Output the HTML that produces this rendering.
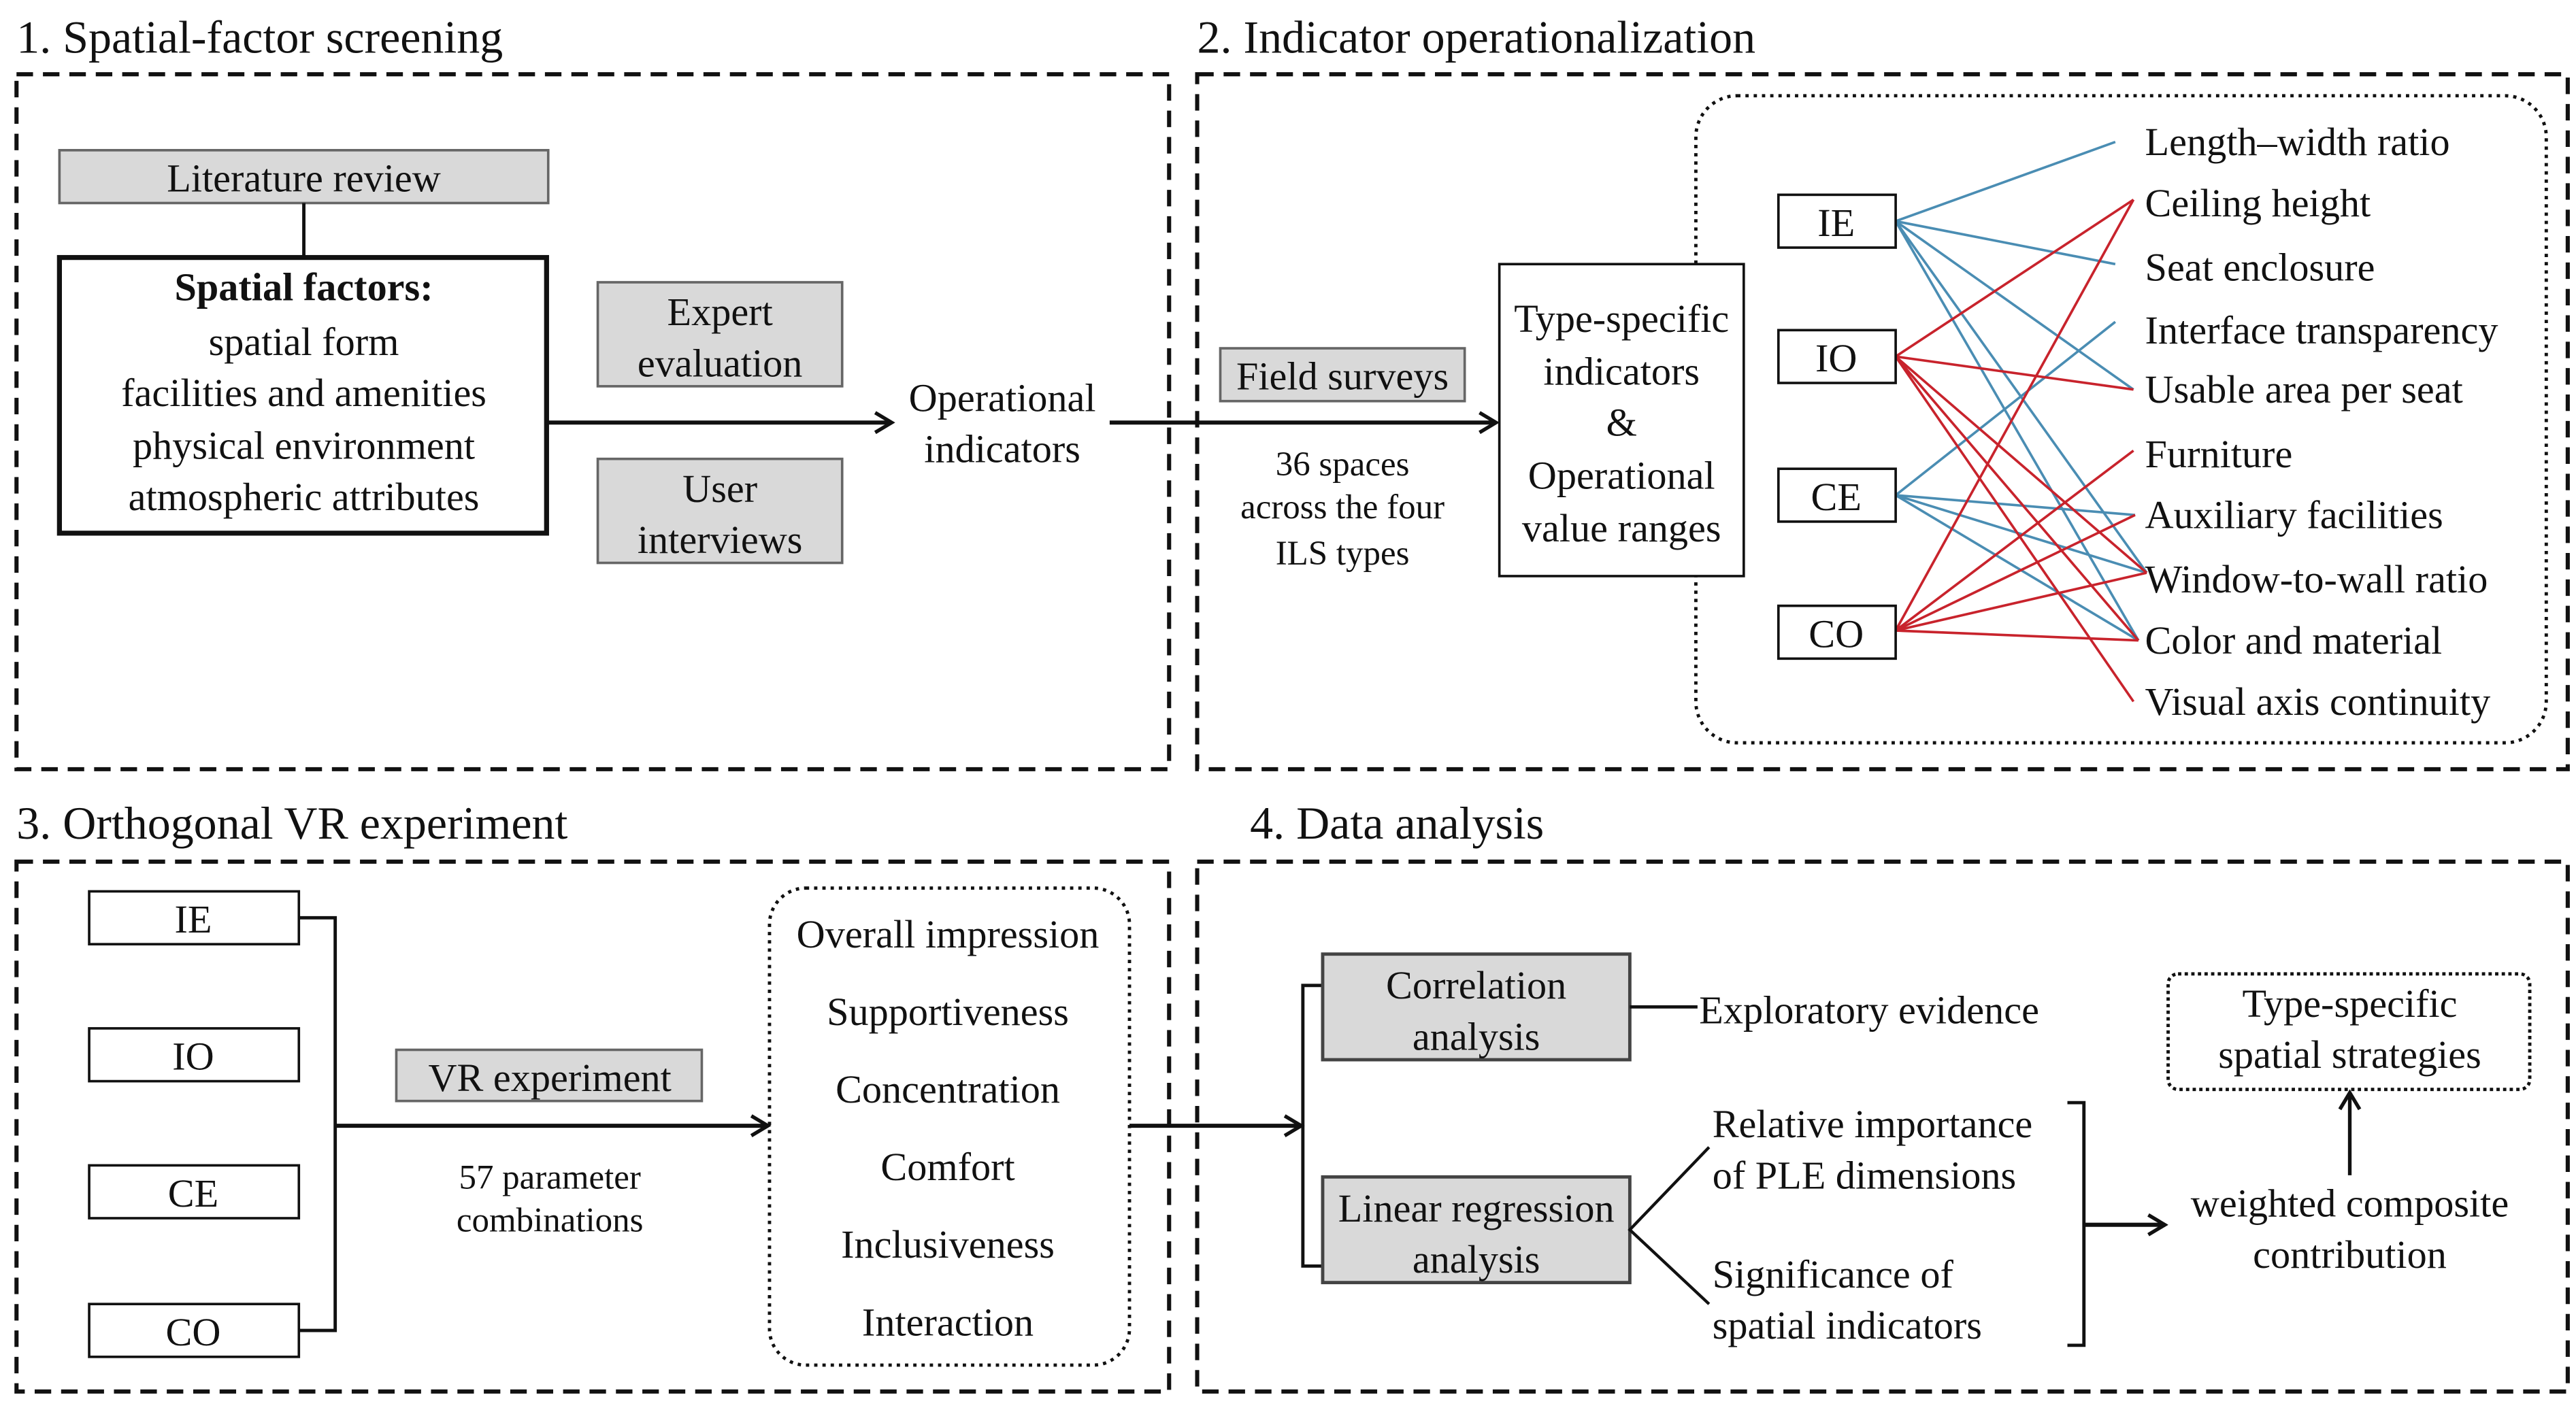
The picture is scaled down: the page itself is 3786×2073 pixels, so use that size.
<!DOCTYPE html>
<html><head><meta charset="utf-8"><style>
html,body{margin:0;padding:0;background:#fff;}
svg{display:block;}
text{font-family:"Liberation Serif",serif;fill:#111;}
</style></head><body>
<svg width="3786" height="2073" viewBox="0 0 1560 854.2" preserveAspectRatio="none" xmlns="http://www.w3.org/2000/svg">
<defs>
<marker id="ah" markerWidth="14" markerHeight="14" refX="12" refY="7" orient="auto" markerUnits="userSpaceOnUse">
<path d="M2,1 L12,7 L2,13" fill="none" stroke="#111" stroke-width="2.2"/>
</marker>
</defs>
<g font-size="28">
<text x="10" y="32">1. Spatial-factor screening</text>
<text x="725" y="32">2. Indicator operationalization</text>
<text x="10" y="508">3. Orthogonal VR experiment</text>
<text x="757" y="508">4. Data analysis</text>
</g>
<g fill="none" stroke="#111" stroke-width="2.5" stroke-dasharray="10 6">
<rect x="10" y="45" width="698" height="421"/>
<rect x="725" y="45" width="830" height="421"/>
<rect x="10" y="522" width="698" height="321"/>
<rect x="725" y="522" width="830" height="321"/>
</g>
<g font-size="24" text-anchor="middle">
<!-- Panel 1 -->
<rect x="36" y="91" width="296" height="32" fill="#d9d9d9" stroke="#666" stroke-width="1.5"/>
<text x="184" y="116">Literature review</text>
<line x1="184" y1="123" x2="184" y2="156" stroke="#111" stroke-width="2"/>
<rect x="36" y="156" width="295" height="167" fill="#fff" stroke="#111" stroke-width="3"/>
<text x="184" y="182" font-weight="bold">Spatial factors:</text>
<text x="184" y="215">spatial form</text>
<text x="184" y="246">facilities and amenities</text>
<text x="184" y="278">physical environment</text>
<text x="184" y="309">atmospheric attributes</text>
<line x1="331" y1="256" x2="540" y2="256" stroke="#111" stroke-width="2.5" marker-end="url(#ah)"/>
<rect x="362" y="171" width="148" height="63" fill="#d9d9d9" stroke="#666" stroke-width="1.5"/>
<text x="436" y="197">Expert</text><text x="436" y="228">evaluation</text>
<rect x="362" y="278" width="148" height="63" fill="#d9d9d9" stroke="#666" stroke-width="1.5"/>
<text x="436" y="304">User</text><text x="436" y="335">interviews</text>
<text x="607" y="249">Operational</text><text x="607" y="280">indicators</text>
<!-- Panel 2 -->
<line x1="672" y1="256" x2="906" y2="256" stroke="#111" stroke-width="2.5" marker-end="url(#ah)"/>
<rect x="739" y="211" width="148" height="32" fill="#d9d9d9" stroke="#666" stroke-width="1.5"/>
<text x="813" y="236">Field surveys</text>
<g font-size="21"><text x="813" y="288">36 spaces</text><text x="813" y="314">across the four</text><text x="813" y="342">ILS types</text></g>
<rect x="1027" y="58" width="515" height="392" rx="25" fill="none" stroke="#111" stroke-width="2" stroke-dasharray="2 3"/>
<rect x="908" y="160" width="148" height="189" fill="#fff" stroke="#111" stroke-width="1.5"/>
<text x="982" y="201">Type-specific</text><text x="982" y="233">indicators</text><text x="982" y="264">&amp;</text><text x="982" y="296">Operational</text><text x="982" y="328">value ranges</text>
<g stroke-width="1.5" fill="none">
<g stroke="#4a8db3">
<line x1="1148" y1="134" x2="1281" y2="86"/><line x1="1148" y1="134" x2="1281" y2="160"/><line x1="1148" y1="134" x2="1292" y2="236"/><line x1="1148" y1="134" x2="1300" y2="347"/><line x1="1148" y1="134" x2="1295" y2="388"/>
<line x1="1148" y1="300" x2="1281" y2="195"/><line x1="1148" y1="300" x2="1293" y2="312"/><line x1="1148" y1="300" x2="1300" y2="347"/><line x1="1148" y1="300" x2="1295" y2="388"/>
</g>
<g stroke="#c8232c">
<line x1="1148" y1="216" x2="1292" y2="121"/><line x1="1148" y1="216" x2="1292" y2="236"/><line x1="1148" y1="216" x2="1300" y2="347"/><line x1="1148" y1="216" x2="1295" y2="388"/><line x1="1148" y1="216" x2="1292" y2="425"/>
<line x1="1148" y1="382" x2="1292" y2="121"/><line x1="1148" y1="382" x2="1292" y2="273"/><line x1="1148" y1="382" x2="1293" y2="312"/><line x1="1148" y1="382" x2="1300" y2="347"/><line x1="1148" y1="382" x2="1295" y2="388"/>
</g>
</g>
<g fill="#fff" stroke="#111" stroke-width="1.5">
<rect x="1077" y="118" width="71" height="32"/><rect x="1077" y="200" width="71" height="32"/><rect x="1077" y="284" width="71" height="32"/><rect x="1077" y="367" width="71" height="32"/>
</g>
<text x="1112" y="143">IE</text><text x="1112" y="225">IO</text><text x="1112" y="309">CE</text><text x="1112" y="392">CO</text>
<g text-anchor="start">
<text x="1299" y="94">Length–width ratio</text>
<text x="1299" y="131">Ceiling height</text>
<text x="1299" y="170">Seat enclosure</text>
<text x="1299" y="208">Interface transparency</text>
<text x="1299" y="244">Usable area per seat</text>
<text x="1299" y="283">Furniture</text>
<text x="1299" y="320">Auxiliary facilities</text>
<text x="1299" y="359">Window-to-wall ratio</text>
<text x="1299" y="396">Color and material</text>
<text x="1299" y="433">Visual axis continuity</text>
</g>
<!-- Panel 3 -->
<g fill="#fff" stroke="#111" stroke-width="1.5">
<rect x="54" y="540" width="127" height="32"/><rect x="54" y="623" width="127" height="32"/><rect x="54" y="706" width="127" height="32"/><rect x="54" y="790" width="127" height="32"/>
</g>
<text x="117" y="565">IE</text><text x="117" y="648">IO</text><text x="117" y="731">CE</text><text x="117" y="815">CO</text>
<path d="M181,556 H203 V806 H181" fill="none" stroke="#111" stroke-width="2"/>
<line x1="203" y1="682" x2="465" y2="682" stroke="#111" stroke-width="2.5" marker-end="url(#ah)"/>
<rect x="240" y="636" width="185" height="31" fill="#d9d9d9" stroke="#666" stroke-width="1.5"/>
<text x="333" y="661">VR experiment</text>
<g font-size="21"><text x="333" y="720">57 parameter</text><text x="333" y="746">combinations</text></g>
<rect x="466" y="538" width="218" height="289" rx="22" fill="none" stroke="#111" stroke-width="2" stroke-dasharray="2 3"/>
<text x="574" y="574">Overall impression</text><text x="574" y="621">Supportiveness</text><text x="574" y="668">Concentration</text><text x="574" y="715">Comfort</text><text x="574" y="762">Inclusiveness</text><text x="574" y="809">Interaction</text>
<!-- Panel 4 -->
<line x1="684" y1="682" x2="788" y2="682" stroke="#111" stroke-width="2.5" marker-end="url(#ah)"/>
<path d="M801,597 H789 V767 H801" fill="none" stroke="#111" stroke-width="2"/>
<rect x="801" y="578" width="186" height="64" fill="#d9d9d9" stroke="#444" stroke-width="2"/>
<text x="894" y="605">Correlation</text><text x="894" y="636">analysis</text>
<rect x="801" y="713" width="186" height="64" fill="#d9d9d9" stroke="#444" stroke-width="2"/>
<text x="894" y="740">Linear regression</text><text x="894" y="771">analysis</text>
<line x1="987" y1="610" x2="1028" y2="610" stroke="#111" stroke-width="2"/>
<text x="1029" y="620" text-anchor="start">Exploratory evidence</text>
<path d="M1035,695 L987,745 L1035,790" fill="none" stroke="#111" stroke-width="1.8"/>
<g text-anchor="start"><text x="1037" y="689">Relative importance</text><text x="1037" y="720">of PLE dimensions</text><text x="1037" y="780">Significance of</text><text x="1037" y="811">spatial indicators</text></g>
<path d="M1252,668 H1262 V815 H1252" fill="none" stroke="#111" stroke-width="2"/>
<line x1="1262" y1="742" x2="1311" y2="742" stroke="#111" stroke-width="2.5" marker-end="url(#ah)"/>
<text x="1423" y="737">weighted composite</text><text x="1423" y="768">contribution</text>
<line x1="1423" y1="712" x2="1423" y2="662" stroke="#111" stroke-width="2.2" marker-end="url(#ah)"/>
<rect x="1313" y="590" width="219" height="70" rx="6" fill="none" stroke="#111" stroke-width="2" stroke-dasharray="2 2"/>
<text x="1423" y="616">Type-specific</text><text x="1423" y="647">spatial strategies</text>
</g>
</svg>
</body></html>
